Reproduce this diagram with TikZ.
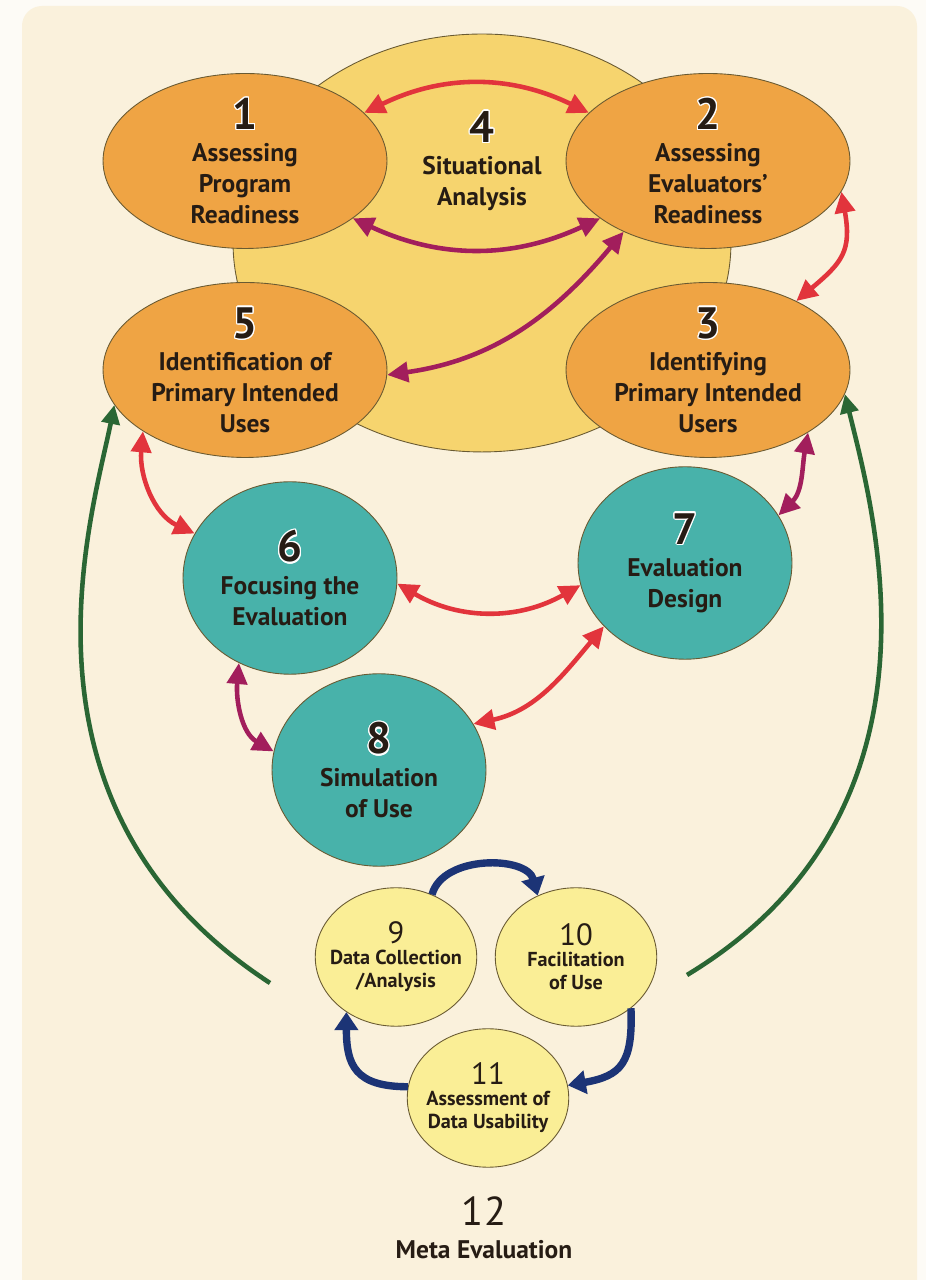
\documentclass[tikz,border=0pt]{standalone}
\usepackage{fontspec}
\setmainfont{PT Sans}
\usepackage{contour}
\usetikzlibrary{shapes.geometric, arrows.meta}
\definecolor{OuterColor}{RGB}{253,251,246}
\definecolor{PanelColor}{RGB}{250,241,220}
\definecolor{SunColor}{RGB}{246,212,110}
\definecolor{OrangeColor}{RGB}{239,164,68}
\definecolor{TealColor}{RGB}{72,178,170}
\definecolor{PaleColor}{RGB}{250,238,150}
\definecolor{EdgeColor}{RGB}{105,90,50}
\definecolor{RedArrow}{RGB}{226,52,60}
\definecolor{PurpleArrow}{RGB}{162,30,92}
\definecolor{GreenArrow}{RGB}{42,102,52}
\definecolor{NavyArrow}{RGB}{28,52,118}
\definecolor{TextColor}{RGB}{38,28,20}
\contourlength{0.7pt}
\newcommand{\bignum}[1]{{\fontsize{25}{25}\selectfont\contour{white}{#1}}}
\newcommand{\smallnum}[1]{{\fontsize{17.5}{17.5}\selectfont\mdseries #1}}

\begin{document}
\begin{tikzpicture}[x=0.02cm,y=0.02cm,
    blob/.style={ellipse, draw=EdgeColor, line width=0.5pt, inner sep=0pt},
    orangeblob/.style={blob, fill=OrangeColor, minimum width=5.68cm, minimum height=3.5cm},
    tealblob/.style={blob, fill=TealColor, minimum width=4.28cm, minimum height=3.85cm},
    paleblob/.style={blob, fill=PaleColor, minimum width=3.23cm, minimum height=2.77cm},
    lbl/.style={align=center, text=TextColor, inner sep=0pt, font=\fontsize{14.5}{17.5}\selectfont\bfseries},
    slbl/.style={lbl, font=\fontsize{11.5}{13.5}\selectfont\bfseries},
    arr/.style={<->, >={Triangle[length=4.2mm,width=4mm]}, line width=2.6pt},
    cyclearr/.style={->, >={Triangle[length=3.6mm,width=4.6mm]}, line width=4.2pt, NavyArrow},
    greenarr/.style={->, >={Triangle[length=3.8mm,width=3.6mm]}, line width=2.6pt, GreenArrow}]
  \useasboundingbox (0,0) rectangle (926,1280);
  \fill[OuterColor] (0,0) rectangle (926,1280);
  \fill[PanelColor, rounded corners=0.4cm] (22,-30) rectangle (917,1274);

  \node[blob, fill=SunColor, minimum width=9.96cm, minimum height=8.36cm] (n4) at (482,1037) {};
  \foreach \name/\x/\y in {n1/245/1119, n2/708/1119, n5/245/910, n3/708/910}
    \node[orangeblob] (\name) at (\x,\y) {};
  \foreach \name/\x/\y in {n6/290/702, n7/685/717, n8/379/510}
    \node[tealblob] (\name) at (\x,\y) {};
  \foreach \name/\x/\y in {n9/396/323, n10/576/323, n11/488/182}
    \node[paleblob] (\name) at (\x,\y) {};

  \node[lbl] (t4) at (482,1119) {\bignum{4}\\[1pt]Situational\\Analysis};
  \node[lbl] (t1) at (n1) {\bignum{1}\\[1pt]Assessing\\Program\\Readiness};
  \node[lbl] (t2) at (n2) {\bignum{2}\\[1pt]Assessing\\Evaluators’\\Readiness};
  \node[lbl] (t5) at (n5) {\bignum{5}\\[1pt]Identification of\\Primary Intended\\Uses};
  \node[lbl] (t3) at (n3) {\bignum{3}\\[1pt]Identifying\\Primary Intended\\Users};
  \node[lbl] (t6) at (n6) {\bignum{6}\\[1pt]Focusing the\\Evaluation};
  \node[lbl] (t7) at (n7) {\bignum{7}\\[1pt]Evaluation\\Design};
  \node[lbl] (t8) at (n8) {\bignum{8}\\[1pt]Simulation\\of Use};
  \node[slbl] (t9) at (n9) {\smallnum{9}\\[-2pt]Data Collection\\/Analysis};
  \node[slbl] (t10) at (n10) {\smallnum{10}\\[-2pt]Facilitation\\of Use};
  \node[slbl] (t11) at (n11) {\smallnum{11}\\[-2pt]Assessment of\\Data Usability};
  \node[lbl] (t12) at (484,52) {{\fontsize{23}{23}\selectfont\mdseries 12}\\[1pt]Meta Evaluation};

  \draw[arr, RedArrow] (n1.22) to[bend left=26] (n2.158);
  \draw[arr, PurpleArrow] (n1.-28) to[bend right=25] (n2.208);
  \draw[arr, PurpleArrow] (n5.-2) to[out=8, in=230] (n2.220);
  \draw[arr, RedArrow] (n2.-13) to[out=-80, in=40, looseness=1.3] (n3.38);
  \draw[arr, RedArrow] (n5.211) to[out=-95, in=155] (n6.155);
  \draw[arr, PurpleArrow] (n3.-32) to[out=-100, in=45] (n7.27);
  \draw[arr, RedArrow] (n6.-3) to[bend right=30] (n7.192);
  \draw[arr, RedArrow] (n8.26) to[out=12, in=230] (n7.218);
  \draw[arr, PurpleArrow] (n6.239) to[out=-95, in=150] (n8.170);

  \draw[cyclearr] (n9.60) to[out=75, in=105] (n10.122);
  \draw[cyclearr] (n10.-43) to[out=-88, in=10, looseness=1.4] (n11.9);
  \draw[cyclearr] (n11.172) to[out=180, in=-90, looseness=1.4] (n9.228);

  \coordinate (gl) at (270,297);
  \coordinate (gr) at (687,305);
  \draw[greenarr] (gl) .. controls (0,473) and (92,764) .. (n5.195);
  \draw[greenarr] (gr) .. controls (960,470) and (873,770) .. (n3.-10);
\end{tikzpicture}
\end{document}
